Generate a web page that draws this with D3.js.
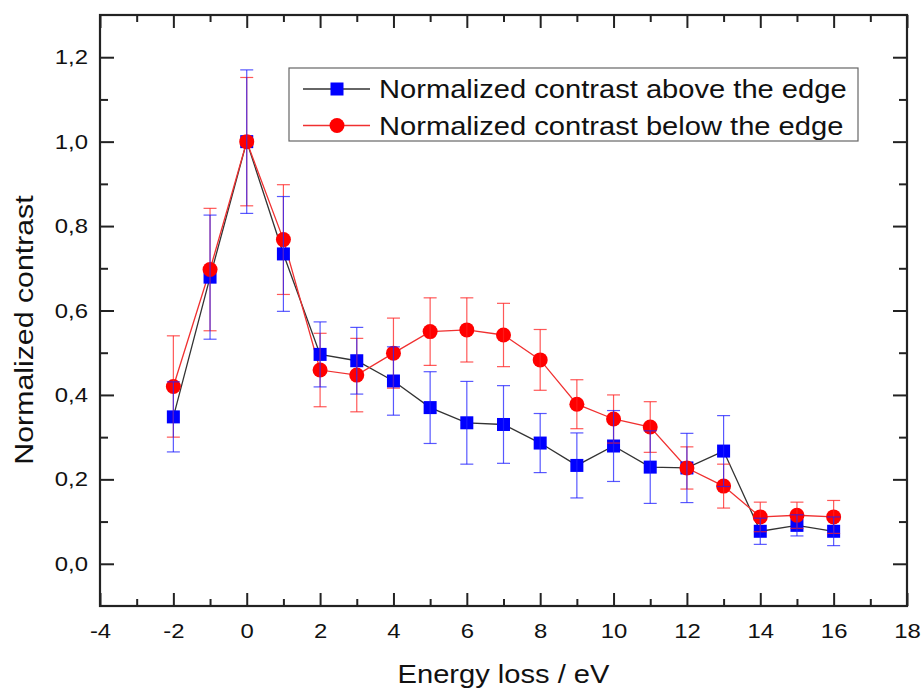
<!DOCTYPE html>
<html>
<head>
<meta charset="utf-8">
<script src="https://cdn.jsdelivr.net/npm/d3@7"></script>
<style>
  body { margin: 0; background: #fff; }
  text { font-family: "Liberation Sans", Arial, sans-serif; fill: #111; }
</style>
</head>
<body>
<svg width="921" height="688"></svg>
<script>
// energy loss (eV)
var energy = [-2, -1, 0, 1, 2, 3, 4, 5, 6, 7, 8, 9, 10, 11, 12, 13, 14, 15, 16];
var above = [0.348, 0.679, 1.0, 0.734, 0.496, 0.481, 0.433, 0.370, 0.334, 0.330, 0.286, 0.233, 0.279, 0.229, 0.227, 0.267, 0.077, 0.091, 0.077];
var aboveErr = [0.083, 0.147, 0.17, 0.136, 0.077, 0.079, 0.081, 0.085, 0.098, 0.092, 0.07, 0.077, 0.084, 0.086, 0.082, 0.084, 0.031, 0.025, 0.034];
var below = [0.42, 0.697, 1.0, 0.768, 0.459, 0.447, 0.499, 0.550, 0.554, 0.542, 0.483, 0.378, 0.343, 0.324, 0.227, 0.184, 0.111, 0.115, 0.111];
var belowErr = [0.12, 0.145, 0.152, 0.13, 0.087, 0.087, 0.083, 0.08, 0.076, 0.075, 0.072, 0.058, 0.057, 0.06, 0.05, 0.052, 0.035, 0.031, 0.039];

var xTicks = [-4, -2, 0, 2, 4, 6, 8, 10, 12, 14, 16, 18];
var xMinor = [-3, -1, 1, 3, 5, 7, 9, 11, 13, 15, 17];
var yTicks = [0, 0.2, 0.4, 0.6, 0.8, 1.0, 1.2];
var yMinor = [0.1, 0.3, 0.5, 0.7, 0.9, 1.1];

var legendLabels = ["Normalized contrast above the edge", "Normalized contrast below the edge"];

var margin = {top: 15, right: 14, bottom: 82, left: 100},
  width = 921 - margin.left - margin.right,
  height = 688 - margin.top - margin.bottom;

var stretch = 1.165;

var svg = d3.select('svg')
  .append("g")
  .attr("transform", "translate(" + margin.left + "," + margin.top + ")");

var x = d3.scaleLinear().domain([-4, 18]).range([0, width]);
var y = d3.scaleLinear().domain([-0.1, 1.3]).range([height, 0]);

var fmt = function(d) { return d.toFixed(1).replace(".", ","); };

// axes, ticks pointing inward on all sides
function styleAxis(g) {
  g.select(".domain").remove();
  g.selectAll("line").attr("stroke", "#222").attr("stroke-width", 2);
}

svg.append("g")
  .attr("transform", "translate(0," + height + ")")
  .call(d3.axisBottom(x).tickValues(xTicks).tickSize(-13).tickPadding(17).tickFormat(function(d) { return String(d); }))
  .call(styleAxis)
  .selectAll("text")
  .style("font-size", "20.5px")
  .attr("transform", "scale(" + stretch + ",1)");

svg.append("g")
  .attr("transform", "translate(0," + height + ")")
  .call(d3.axisBottom(x).tickValues(xMinor).tickSize(-7).tickFormat(""))
  .call(styleAxis);

svg.append("g")
  .call(d3.axisTop(x).tickValues(xTicks).tickSize(-13).tickFormat(""))
  .call(styleAxis);
svg.append("g")
  .call(d3.axisTop(x).tickValues(xMinor).tickSize(-7).tickFormat(""))
  .call(styleAxis);

var yAxisG = svg.append("g")
  .call(d3.axisLeft(y).tickValues(yTicks).tickSize(-14).tickPadding(12).tickFormat(fmt))
  .call(styleAxis);
yAxisG.selectAll("text")
  .style("font-size", "20.5px")
  .attr("x", -12 / stretch)
  .attr("transform", "scale(" + stretch + ",1)");

svg.append("g")
  .call(d3.axisLeft(y).tickValues(yMinor).tickSize(-8).tickFormat(""))
  .call(styleAxis);

svg.append("g")
  .attr("transform", "translate(" + width + ",0)")
  .call(d3.axisRight(y).tickValues(yTicks).tickSize(-14).tickFormat(""))
  .call(styleAxis);
svg.append("g")
  .attr("transform", "translate(" + width + ",0)")
  .call(d3.axisRight(y).tickValues(yMinor).tickSize(-8).tickFormat(""))
  .call(styleAxis);

// frame
svg.append("rect")
  .attr("width", width)
  .attr("height", height)
  .attr("fill", "none")
  .attr("stroke", "#222")
  .attr("stroke-width", 2.2);

var aboveData = energy.map(function(e, i) { return {x: e, y: above[i], err: aboveErr[i]}; });
var belowData = energy.map(function(e, i) { return {x: e, y: below[i], err: belowErr[i]}; });

var line = d3.line()
  .x(function(d) { return x(d.x); })
  .y(function(d) { return y(d.y); });

svg.append("path")
  .datum(aboveData)
  .attr("d", line)
  .attr("fill", "none")
  .attr("stroke", "#333")
  .attr("stroke-width", 1.3);

svg.append("path")
  .datum(belowData)
  .attr("d", line)
  .attr("fill", "none")
  .attr("stroke", "#f03030")
  .attr("stroke-width", 1.3);

svg.selectAll(".sq")
  .data(aboveData)
  .enter().append("rect")
  .attr("class", "sq")
  .attr("x", function(d) { return x(d.x) - 6.5; })
  .attr("y", function(d) { return y(d.y) - 6.5; })
  .attr("width", 13)
  .attr("height", 13)
  .style("fill", "#0000ff");

svg.selectAll(".dot")
  .data(belowData)
  .enter().append("circle")
  .attr("class", "dot")
  .attr("cx", function(d) { return x(d.x); })
  .attr("cy", function(d) { return y(d.y); })
  .attr("r", 7.5)
  .style("fill", "#ff0000");

function errorBars(data, color) {
  var g = svg.append("g")
    .attr("stroke", color)
    .attr("stroke-width", 1.2)
    .attr("stroke-opacity", 0.75);
  var bars = g.selectAll("g").data(data).enter().append("g");
  bars.append("line")
    .attr("x1", function(d) { return x(d.x); })
    .attr("x2", function(d) { return x(d.x); })
    .attr("y1", function(d) { return y(d.y + d.err); })
    .attr("y2", function(d) { return y(d.y - d.err); });
  [1, -1].forEach(function(s) {
    bars.append("line")
      .attr("x1", function(d) { return x(d.x) - 6.5; })
      .attr("x2", function(d) { return x(d.x) + 6.5; })
      .attr("y1", function(d) { return y(d.y + s * d.err); })
      .attr("y2", function(d) { return y(d.y + s * d.err); });
  });
}
errorBars(belowData, "#ff2020");
errorBars(aboveData, "#2020ff");

// legend
var lg = svg.append("g").attr("transform", "translate(" + (289 - margin.left) + "," + (68 - margin.top) + ")");
lg.append("rect")
  .attr("width", 569)
  .attr("height", 73)
  .attr("fill", "#fff")
  .attr("stroke", "#666")
  .attr("stroke-width", 1.2);

var rows = lg.selectAll(".legend")
  .data(legendLabels)
  .enter().append("g")
  .attr("class", "legend")
  .attr("transform", function(d, i) { return "translate(0," + (21 + i * 36.5) + ")"; });

rows.append("line")
  .attr("x1", 14).attr("x2", 81)
  .attr("stroke", function(d, i) { return i === 0 ? "#333" : "#f03030"; })
  .attr("stroke-width", 1.3);

rows.filter(function(d, i) { return i === 0; })
  .append("rect")
  .attr("x", 48 - 6.5).attr("y", -6.5)
  .attr("width", 13).attr("height", 13)
  .style("fill", "#0000ff");

rows.filter(function(d, i) { return i === 1; })
  .append("circle")
  .attr("cx", 48).attr("r", 7.5)
  .style("fill", "#ff0000");

rows.append("text")
  .attr("x", 90 / stretch)
  .attr("y", 9)
  .attr("transform", "scale(" + stretch + ",1)")
  .style("font-size", "25px")
  .text(function(d) { return d; });

// axis titles
svg.append("text")
  .attr("transform", "translate(" + (width / 2) + "," + (683 - margin.top) + ") scale(" + stretch + ",1)")
  .attr("text-anchor", "middle")
  .style("font-size", "25px")
  .text("Energy loss / eV");

svg.append("text")
  .attr("transform", "translate(" + (33 - margin.left) + "," + (330 - margin.top) + ") rotate(-90) scale(" + stretch + ",1)")
  .attr("text-anchor", "middle")
  .style("font-size", "26px")
  .text("Normalized contrast");
</script>
</body>
</html>
